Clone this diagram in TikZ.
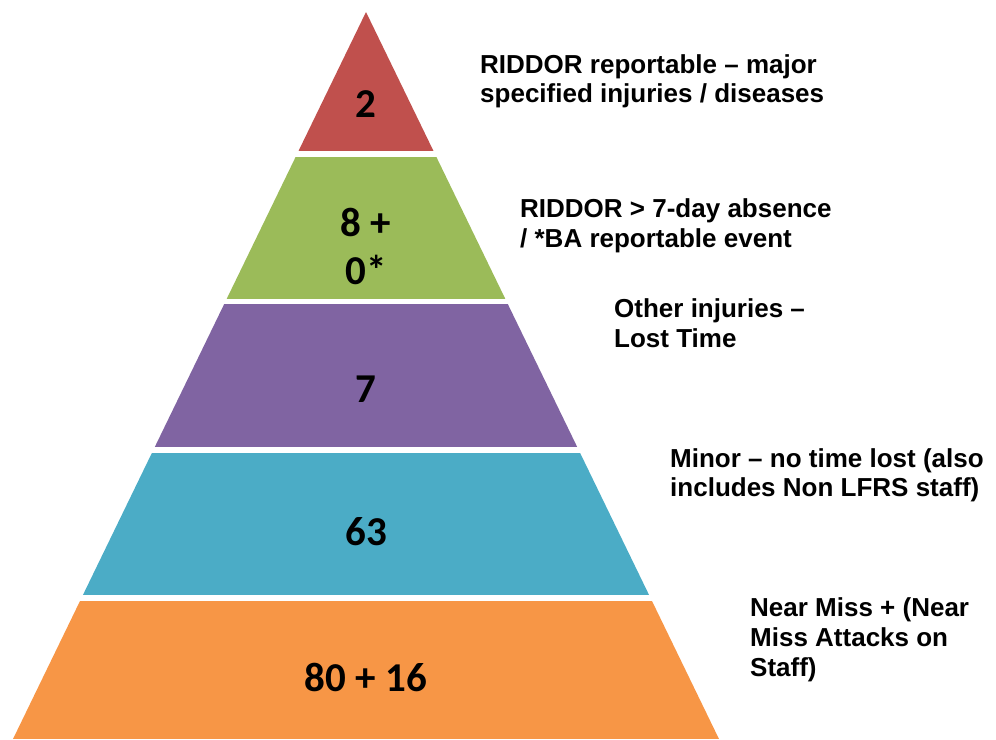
\documentclass[tikz,border=0pt]{standalone}
\usepackage{fontspec}
\setmainfont{Liberation Sans}
\newfontfamily\numfont{Carlito}
\definecolor{cred}{HTML}{C0504D}
\definecolor{cgreen}{HTML}{9BBB59}
\definecolor{cpurple}{HTML}{8064A2}
\definecolor{cteal}{HTML}{4BACC6}
\definecolor{corange}{HTML}{F79646}
\tikzset{
  lbl/.style={anchor=base west, inner sep=0pt, font=\bfseries\fontsize{26}{30}\selectfont},
  num/.style={anchor=base, inner sep=0pt, font=\numfont\bfseries\fontsize{41}{47}\selectfont},
}
\begin{document}
\begin{tikzpicture}[x=1pt,y=-1pt]
\useasboundingbox (0,0) rectangle (996,739);
\coordinate (apex) at (366,12);
\coordinate (bl) at (13,739);
\coordinate (br) at (719,739);
\begin{scope}
  \clip (apex) -- (br) -- (bl) -- cycle;
  \fill[cred]    (0,0)   rectangle (996,151);
  \fill[cgreen]  (0,157) rectangle (996,299);
  \fill[cpurple] (0,304) rectangle (996,447);
  \fill[cteal]   (0,453) rectangle (996,595);
  \fill[corange] (0,601) rectangle (996,739);
\end{scope}
% numbers
\node[num] (n1)  at (366,117.3) {2};
\node[num] (n2a) at (366,236.7) {8 +};
\node[num] (n2b) at (366,284)   {0*};
\node[num] (n3)  at (366,402.5) {7};
\node[num] (n4)  at (366,545.7) {63};
\node[num] (n5)  at (366,691.7) {80 + 16};
% labels
\node[lbl] (l1a) at (480,73.3) {RIDDOR reportable – major};
\node[lbl] (l1b) at (480,102.8) {specified injuries / diseases};
\node[lbl] (l2a) at (520,217.5) {RIDDOR > 7-day absence};
\node[lbl] (l2b) at (520,247) {/ *BA reportable event};
\node[lbl] (l3a) at (614,317.5) {Other injuries –};
\node[lbl] (l3b) at (614,347) {Lost Time};
\node[lbl] (l4a) at (670,467) {Minor – no time lost (also};
\node[lbl] (l4b) at (670,496.5) {includes Non LFRS staff)};
\node[lbl] (l5a) at (750,616.7) {Near Miss + (Near};
\node[lbl] (l5b) at (750,646.5) {Miss Attacks on};
\node[lbl] (l5c) at (750,676.3) {Staff)};
\end{tikzpicture}
\end{document}
